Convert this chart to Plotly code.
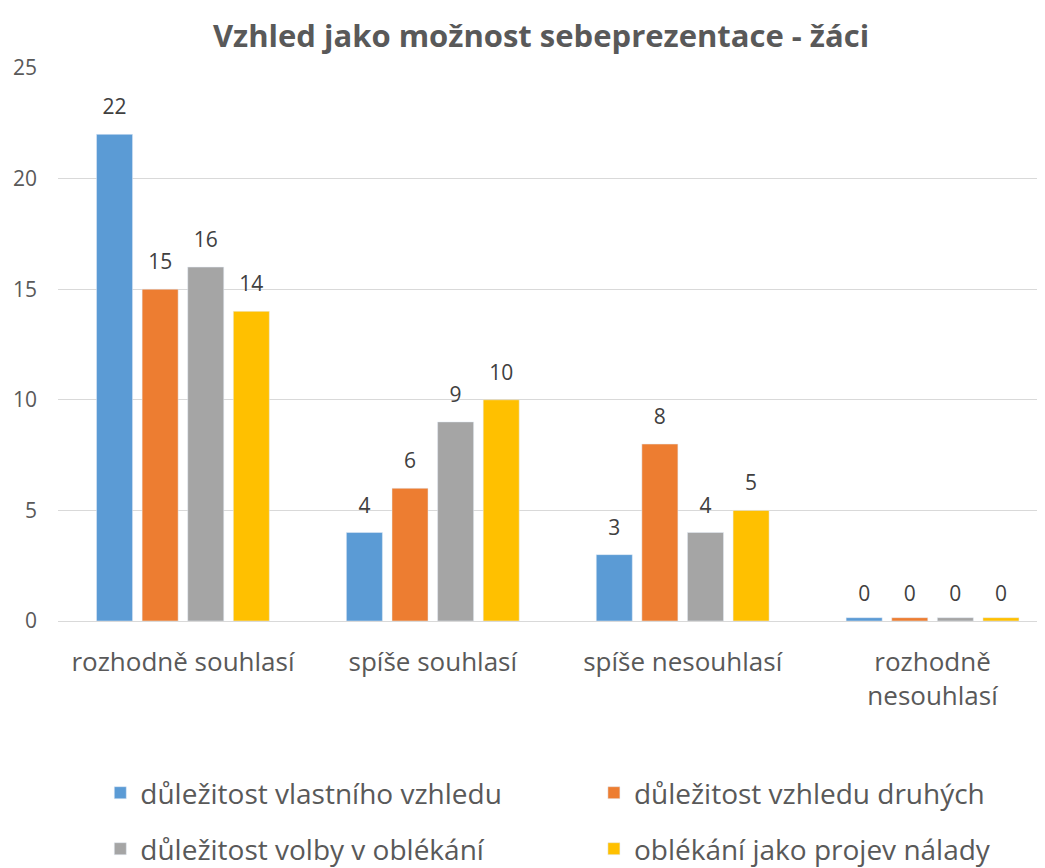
import plotly.graph_objects as go

categories = ["rozhodně souhlasí", "spíše souhlasí", "spíše nesouhlasí", "rozhodně<br>nesouhlasí"]
series_names = ["důležitost vlastního vzhledu", "důležitost vzhledu druhých",
                "důležitost volby v oblékání", "oblékání jako projev nálady"]
values_vlastni = [22, 4, 3, 0]
values_druhych = [15, 6, 8, 0]
values_volby = [16, 9, 4, 0]
values_nalady = [14, 10, 5, 0]
colors = ["#5B9BD5", "#ED7D31", "#A5A5A5", "#FFC000"]
y_ticks = [0, 5, 10, 15, 20, 25]

FONT = "'Open Sans', sans-serif"
W, H = 1037, 860  # page body has an 8px margin in the browser
series = [values_vlastni, values_druhych, values_volby, values_nalady]
legend_ids = ["legend", "legend2", "legend3", "legend4"]
legend_pos = [(0.089, 1 - 785 / H), (0.565, 1 - 785 / H),
              (0.089, 1 - 841 / H), (0.565, 1 - 841 / H)]

fig = go.Figure()
for i, (name, vals, col, lg) in enumerate(zip(series_names, series, colors, legend_ids)):
    shown = [v if v > 0 else 0.15 for v in vals]  # zero bars drawn as thin stubs, like the source
    fig.add_trace(go.Bar(
        x=categories, y=shown, name=name, marker_color=col,
        offsetgroup=str(i), cliponaxis=False, legend=lg, showlegend=True,
    ))
for i, vals in enumerate(series):
    # data labels, placed over each bar through the same grouped x scale
    fig.add_trace(go.Scatter(
        x=categories, y=vals, mode="markers+text", text=[str(v) for v in vals],
        textposition="top center", offsetgroup=str(i),
        marker=dict(size=22, opacity=0), hoverinfo="skip", showlegend=False,
        textfont=dict(size=21, color="#404040", family=FONT), cliponaxis=False,
    ))

legend_common = dict(orientation="h", xref="container", yref="container",
                     xanchor="left", yanchor="middle",
                     font=dict(size=28, color="#595959", family=FONT),
                     itemwidth=30, bgcolor="rgba(0,0,0,0)")
legend_layout = {lid: dict(legend_common, x=px, y=py) for lid, (px, py) in zip(legend_ids, legend_pos)}

fig.update_layout(
    width=W, height=H, showlegend=True,
    paper_bgcolor="white", plot_bgcolor="white",
    margin=dict(l=50, r=0, t=60, b=247, autoexpand=False),
    barmode="group", bargap=0.27, bargroupgap=0.21,
    scattermode="group", scattergap=0.27,
    title=dict(text="<b>Vzhled jako možnost sebeprezentace - žáci</b>",
               x=0.514, xanchor="center", y=1 - 28 / H, yanchor="middle",
               font=dict(size=31, color="#595959", family=FONT)),
    font=dict(family=FONT, color="#595959"),
    **legend_layout,
)
fig.update_yaxes(range=[0, 25], tickvals=y_ticks, showgrid=True, gridcolor="#D9D9D9",
                 gridwidth=1, zeroline=True, zerolinecolor="#D9D9D9", zerolinewidth=1,
                 tickfont=dict(size=21, color="#595959", family=FONT), ticks="",
                 ticklabelstandoff=20, showline=False, automargin=False)
fig.update_xaxes(range=[-0.5, 3.45], showgrid=False, ticks="",
                 tickfont=dict(size=26, color="#595959", family=FONT),
                 showline=True, linecolor="#D9D9D9", linewidth=1, ticklabelstandoff=18,
                 automargin=False)

fig.write_html("out.html")
